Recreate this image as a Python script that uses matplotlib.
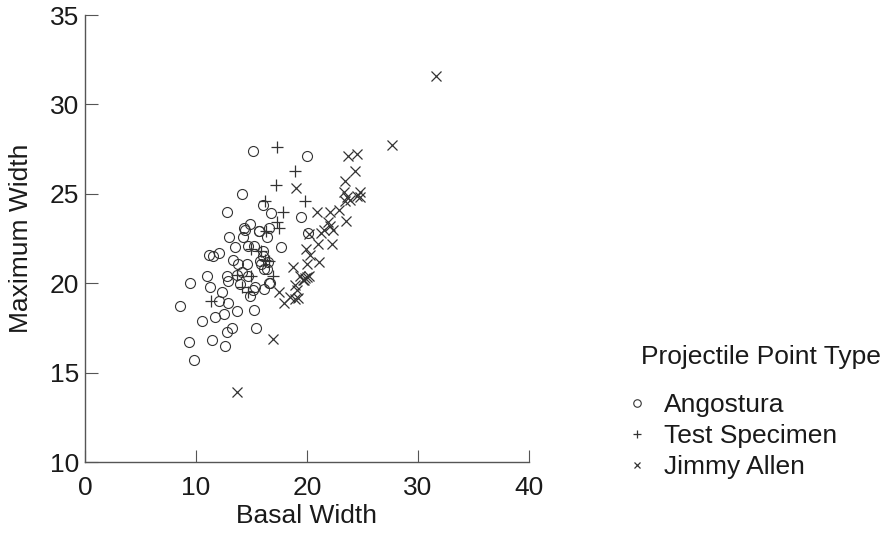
import matplotlib
matplotlib.use("Agg")
import matplotlib.pyplot as plt

plt.rcParams['font.family'] = ['Liberation Sans', 'DejaVu Sans']

# Angostura (circles)
ang_x = [8.6, 9.5, 9.4, 9.8, 10.5, 11.0, 11.25, 11.15, 11.5, 12.1, 11.4, 11.7, 12.1, 12.3,
         12.5, 12.6, 12.8, 13.2, 12.9, 12.8, 12.9, 12.8, 13.0, 13.3, 13.8, 13.5, 13.7, 13.7,
         14.1, 14.1, 14.3, 14.2, 14.6, 14.7, 14.9, 15.1, 14.7, 15.2, 14.9, 15.2, 15.45, 15.1,
         15.65, 15.8, 16.0, 16.0, 16.1, 16.4, 16.0, 16.4, 16.6, 16.8, 16.6, 17.7, 19.5, 20.0,
         20.1, 16.7, 16.1, 15.3, 16.5, 15.9, 14.4, 15.7, 14.0]
ang_y = [18.7, 20.0, 16.7, 15.7, 17.9, 20.4, 19.8, 21.6, 21.5, 21.7, 16.8, 18.1, 19.0, 19.5,
         18.3, 16.5, 17.25, 17.5, 18.9, 20.4, 20.1, 24.0, 22.6, 21.3, 21.1, 22.0, 18.45, 20.45,
         20.6, 25.0, 23.1, 22.6, 21.1, 20.4, 19.3, 19.6, 22.1, 22.1, 23.3, 18.5, 17.5, 27.4,
         22.9, 21.25, 21.5, 24.4, 19.7, 20.8, 21.8, 22.6, 23.1, 23.9, 20.0, 22.0, 23.7, 27.1,
         22.8, 20.0, 20.8, 19.8, 21.2, 21.1, 23.0, 22.9, 19.95]

# Test Specimen (plus)
test_x = [17.3, 18.9, 17.2, 19.8, 16.2, 17.8, 17.3, 17.5, 16.3, 15.0, 15.9, 16.2, 14.1,
          14.7, 15.0, 16.9, 11.35, 13.7, 16.6]
test_y = [27.6, 26.3, 25.5, 24.6, 24.6, 24.0, 23.4, 23.1, 22.9, 21.9, 21.8, 21.3, 19.8,
          19.5, 20.4, 20.4, 19.0, 20.45, 21.25]

# Jimmy Allen (x)
ja_x = [31.6, 27.7, 23.7, 24.5, 24.3, 23.4, 19.0, 23.3, 23.6, 23.9, 24.5, 24.8, 23.4,
        24.8, 20.9, 22.1, 22.9, 23.5, 21.9, 22.1, 21.5, 22.3, 21.3, 20.2, 21.0, 22.25,
        19.95, 20.3, 18.7, 21.1, 20.0, 17.5, 19.4, 19.85, 20.2, 19.6, 18.9, 18.5, 18.9,
        19.2, 17.9, 16.9, 13.7, 19.1, 19.7, 20.0]
ja_y = [31.6, 27.75, 27.1, 27.2, 26.3, 25.7, 25.3, 25.1, 24.8, 24.65, 24.9, 24.8, 24.6,
        25.1, 24.0, 24.0, 24.1, 23.5, 23.4, 23.2, 23.0, 23.0, 22.8, 22.75, 22.2, 22.2,
        21.9, 21.6, 20.9, 21.2, 21.1, 19.5, 20.4, 20.3, 20.4, 20.2, 19.9, 19.25, 19.1,
        19.2, 18.9, 16.9, 13.9, 19.6, 20.2, 20.35]

fig = plt.figure(figsize=(8.91, 5.36), dpi=100)
ax = fig.add_axes([0.0954, 0.138, 0.4983, 0.834])

col = '#333333'
txtcol = '#1a1a1a'
ax.plot(ang_x, ang_y, 'o', mfc='none', mec=col, ms=7.2, mew=0.8, ls='none', label='Angostura')
ax.plot(test_x, test_y, '+', mec=col, ms=8, mew=0.9, ls='none', label='Test Specimen')
ax.plot(ja_x, ja_y, 'x', mec=col, ms=6.5, mew=0.9, ls='none', label='Jimmy Allen')

ax.set_xlim(0, 40)
ax.set_ylim(10, 35)
ax.set_xticks([0, 10, 20, 30, 40])
ax.set_yticks([10, 15, 20, 25, 30, 35])
for s in ['top', 'right']:
    ax.spines[s].set_visible(False)
for s in ['left', 'bottom']:
    ax.spines[s].set_color('#555555')
    ax.spines[s].set_linewidth(1.0)
ax.tick_params(axis='both', direction='in', color='#555555', labelsize=19, labelcolor=txtcol)
ax.tick_params(axis='y', length=9.5, pad=4)
ax.tick_params(axis='x', length=9, pad=10)

ax.set_xlabel('Basal Width', fontsize=19, color=txtcol, labelpad=3)
ax.set_ylabel('Maximum Width', fontsize=19, color=txtcol, labelpad=12)

# legend title drawn separately so the gap above the entries matches
fig.text(641 / 891, 1 - 357 / 536, 'Projectile Point Type', fontsize=19, color=txtcol,
         ha='left', va='center')
leg = fig.legend(loc='upper left', bbox_to_anchor=(626 / 891, 1 - 393 / 536), frameon=False,
                 fontsize=19, markerscale=0.75, handlelength=0.8, handletextpad=0.65,
                 labelspacing=0.27, borderpad=0, borderaxespad=0)
for t in leg.get_texts():
    t.set_color(txtcol)

fig.savefig('out.png', dpi=100)
